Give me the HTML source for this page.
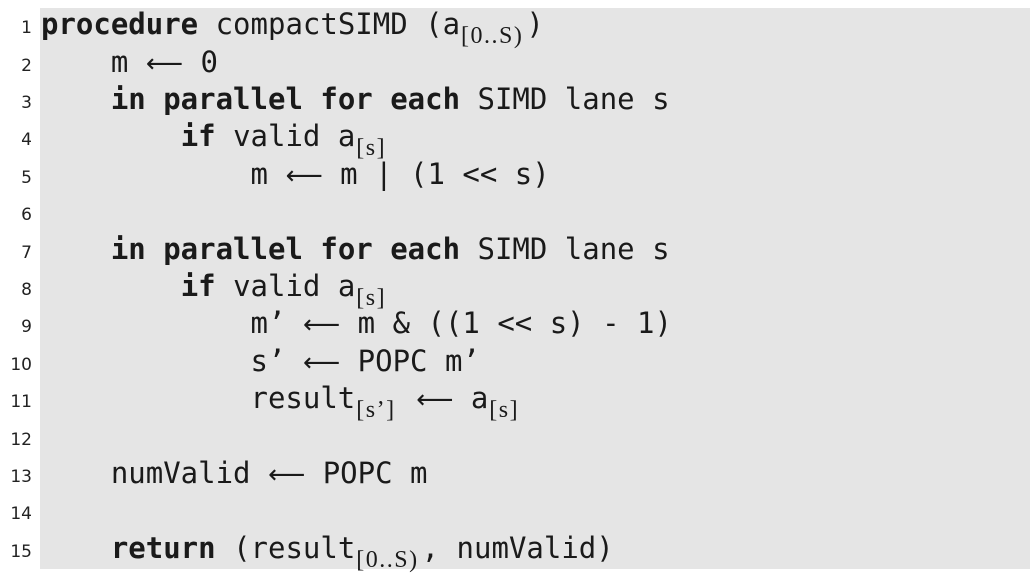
<!DOCTYPE html>
<html><head><meta charset="utf-8"><style>
body{margin:0;width:1030px;height:576px;background:#fff;position:relative;overflow:hidden}
.box{position:absolute;left:40px;top:8px;width:990px;height:561px;background:#e5e5e5}
.l{position:absolute;left:0;height:37px;line-height:37px;white-space:pre;font-family:"DejaVu Sans Mono","Liberation Mono",monospace;font-size:29px;color:#1a1a1a}
.n{position:absolute;left:0;top:4px;width:32px;text-align:right;font-family:"DejaVu Sans","Liberation Sans",sans-serif;font-size:17px;color:#222}
.c{position:absolute;left:41px}
b{font-weight:bold}
sub{font-family:"Liberation Serif","DejaVu Serif",serif;font-size:24px;letter-spacing:1.5px;vertical-align:-9px;line-height:0;margin-left:1px;margin-right:3px}
.ar{font-family:"DejaVu Sans",sans-serif;font-size:26px}
</style></head><body>
<div class="box"></div>
<div class="l" style="top:6px"><span class="n">1</span><span class="c"><b>procedure</b> compactSIMD (a<sub>[0..S)</sub>)</span></div>
<div class="l" style="top:44px"><span class="n">2</span><span class="c">    m <span class="ar">⟵</span> 0</span></div>
<div class="l" style="top:81px"><span class="n">3</span><span class="c">    <b>in parallel for each</b> SIMD lane s</span></div>
<div class="l" style="top:118px"><span class="n">4</span><span class="c">        <b>if</b> valid a<sub>[s]</sub></span></div>
<div class="l" style="top:156px"><span class="n">5</span><span class="c">            m <span class="ar">⟵</span> m | (1 &lt;&lt; s)</span></div>
<div class="l" style="top:193px"><span class="n">6</span></div>
<div class="l" style="top:231px"><span class="n">7</span><span class="c">    <b>in parallel for each</b> SIMD lane s</span></div>
<div class="l" style="top:268px"><span class="n">8</span><span class="c">        <b>if</b> valid a<sub>[s]</sub></span></div>
<div class="l" style="top:305px"><span class="n">9</span><span class="c">            m’ <span class="ar">⟵</span> m &amp; ((1 &lt;&lt; s) - 1)</span></div>
<div class="l" style="top:343px"><span class="n">10</span><span class="c">            s’ <span class="ar">⟵</span> POPC m’</span></div>
<div class="l" style="top:380px"><span class="n">11</span><span class="c">            result<sub>[s’]</sub> <span class="ar">⟵</span> a<sub>[s]</sub></span></div>
<div class="l" style="top:418px"><span class="n">12</span></div>
<div class="l" style="top:455px"><span class="n">13</span><span class="c">    numValid <span class="ar">⟵</span> POPC m</span></div>
<div class="l" style="top:492px"><span class="n">14</span></div>
<div class="l" style="top:530px"><span class="n">15</span><span class="c">    <b>return</b> (result<sub>[0..S)</sub>, numValid)</span></div>
</body></html>
